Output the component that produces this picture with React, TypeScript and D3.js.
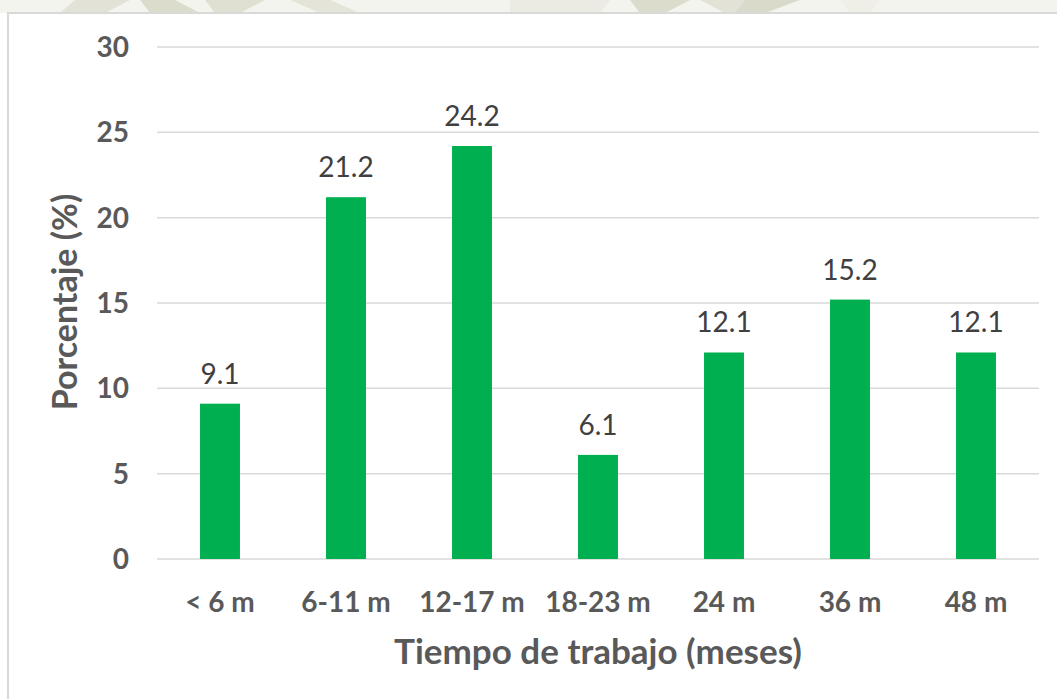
import * as d3 from "d3";

const categories = ["< 6 m", "6-11 m", "12-17 m", "18-23 m", "24 m", "36 m", "48 m"];
const values = [9.1, 21.2, 24.2, 6.1, 12.1, 15.2, 12.1];
const yTicks = [0, 5, 10, 15, 20, 25, 30];

const W = 1057;
const H = 699;
const margin = { top: 47, right: 18, bottom: 140, left: 157 };
const font = "Lato, 'Open Sans', sans-serif";

const App = () => {
  const x = d3
    .scaleBand()
    .domain(categories)
    .range([margin.left, W - margin.right])
    .paddingInner(0.683)
    .paddingOuter(0.3415);

  const y = d3
    .scaleLinear()
    .domain([0, 30])
    .range([H - margin.bottom, margin.top]);

  return (
    <svg
      width={W}
      height={H}
      style={{ position: "absolute", left: 0, top: 0, background: "#fff" }}
    >
      {/* watermark strip above the chart */}
      <rect x={0} y={0} width={W} height={13} fill="#f4f4ef" />
      <polygon points="75,0 130,0 105,13 60,13" fill="#e2e2d6" />
      <polygon points="140,0 175,0 200,13 150,13" fill="#dcdccd" />
      <polygon points="205,0 265,0 240,13 215,13" fill="#e0e0d2" />
      <polygon points="290,0 330,0 360,13 320,13" fill="#e4e4d8" />
      <polygon points="510,0 610,0 600,13 510,13" fill="#ebebe4" />
      <polygon points="630,0 690,0 665,13 640,13" fill="#dcdccd" />
      <polygon points="700,0 760,0 735,13 725,13" fill="#e2e2d6" />
      <polygon points="745,0 800,0 765,13 735,13" fill="#dadacb" />
      <polygon points="840,0 880,0 870,13 850,13" fill="#efefe8" />

      {/* chart frame */}
      <rect x={8} y={13} width={W + 20} height={H + 20} fill="#fff" stroke="#d9d9d9" strokeWidth={2} />

      {/* grid */}
      {yTicks.map((t) => (
        <g key={t}>
          <line
            x1={margin.left}
            x2={W - margin.right}
            y1={y(t)}
            y2={y(t)}
            stroke="#d9d9d9"
            strokeWidth={1.5}
          />
          <text
            x={129}
            y={y(t)}
            dy="0.36em"
            textAnchor="end"
            fontFamily={font}
            fontWeight="bold"
            fontSize={28}
            fill="#595959"
          >
            {t}
          </text>
        </g>
      ))}

      {/* bars */}
      {categories.map((c, i) => (
        <g key={c}>
          <rect
            x={x(c)}
            y={y(values[i])}
            width={x.bandwidth()}
            height={y(0) - y(values[i])}
            fill="#00b050"
          />
          <text
            x={(x(c) as number) + x.bandwidth() / 2}
            y={y(values[i]) - 20}
            textAnchor="middle"
            fontFamily={font}
            fontSize={28}
            fill="#404040"
          >
            {values[i].toFixed(1)}
          </text>
          <text
            x={(x(c) as number) + x.bandwidth() / 2}
            y={612}
            textAnchor="middle"
            fontFamily={font}
            fontWeight="bold"
            fontSize={28}
            fill="#595959"
          >
            {c}
          </text>
        </g>
      ))}

      {/* axis titles */}
      <text
        x={(margin.left + W - margin.right) / 2}
        y={664}
        textAnchor="middle"
        fontFamily={font}
        fontWeight="bold"
        fontSize={35}
        fill="#595959"
      >
        Tiempo de trabajo (meses)
      </text>
      <text
        transform={`translate(77,${302}) rotate(-90)`}
        textAnchor="middle"
        fontFamily={font}
        fontWeight="bold"
        fontSize={34}
        fill="#595959"
      >
        Porcentaje (%)
      </text>
    </svg>
  );
};

export default App;
